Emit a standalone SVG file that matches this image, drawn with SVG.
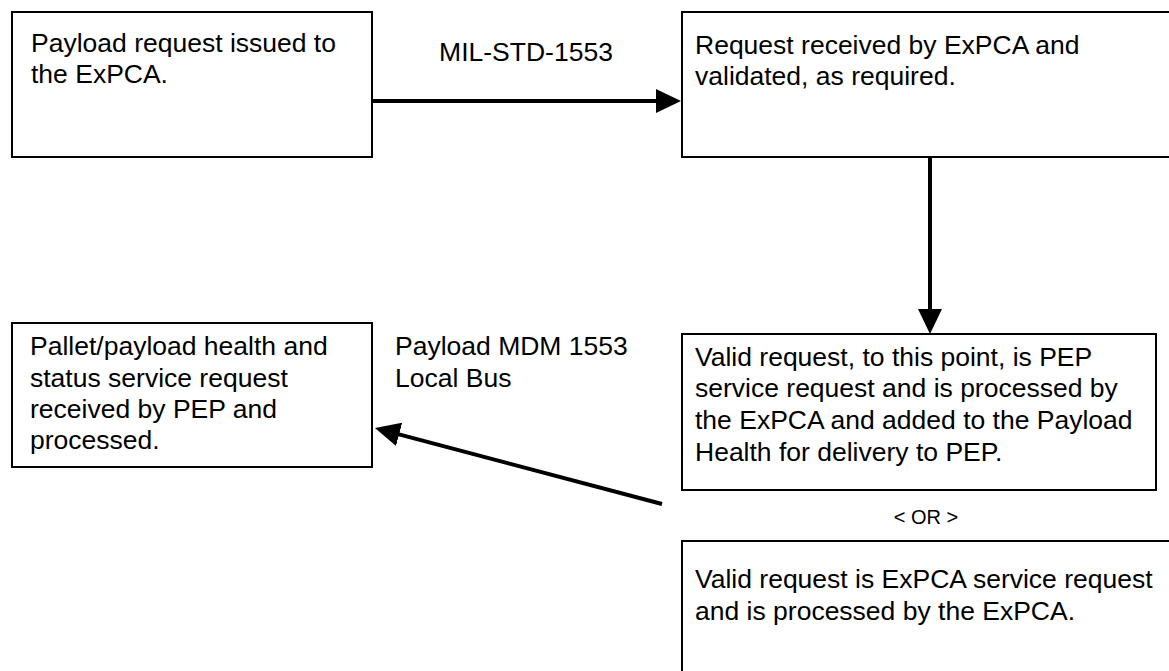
<svg xmlns="http://www.w3.org/2000/svg" width="1169" height="671" viewBox="0 0 1169 671">
<style>
.box{fill:#fff;stroke:#000;stroke-width:2}
.t{font-family:"Liberation Sans",Arial,sans-serif;font-size:26.5px;fill:#000}
.s{font-family:"Liberation Sans",Arial,sans-serif;font-size:20px;fill:#000}
.c{stroke:#000;stroke-width:4;fill:none;marker-end:url(#ah)}
</style>
<defs>
<marker id="ah" viewBox="0 0 25 24" refX="5" refY="12" markerWidth="25" markerHeight="24" markerUnits="userSpaceOnUse" orient="auto">
<path d="M0,0 L25,12 L0,24 z" fill="#000"/>
</marker>
</defs>
<rect width="1169" height="671" fill="#fff"/>
<g id="n1">
<rect class="box" x="12" y="12" width="360" height="145"/>
<text class="t" x="31" y="52">Payload request issued to</text>
<text class="t" x="31" y="83">the ExPCA.</text>
</g>
<g id="n2">
<rect class="box" x="682" y="12" width="500" height="145"/>
<text class="t" x="695" y="54">Request received by ExPCA and</text>
<text class="t" x="695" y="85">validated, as required.</text>
</g>
<g id="n3">
<rect class="box" x="682" y="334" width="474" height="156"/>
<text class="t" x="695" y="366">Valid request, to this point, is PEP</text>
<text class="t" x="695" y="397">service request and is processed by</text>
<text class="t" x="695" y="429">the ExPCA and added to the Payload</text>
<text class="t" x="695" y="461">Health for delivery to PEP.</text>
</g>
<g id="n4">
<rect class="box" x="682" y="541" width="500" height="160"/>
<text class="t" x="695" y="588">Valid request is ExPCA service request</text>
<text class="t" x="695" y="620">and is processed by the ExPCA.</text>
</g>
<g id="n5">
<rect class="box" x="12" y="323" width="360" height="144"/>
<text class="t" x="30" y="355">Pallet/payload health and</text>
<text class="t" x="30" y="387">status service request</text>
<text class="t" x="30" y="418">received by PEP and</text>
<text class="t" x="30" y="449">processed.</text>
</g>
<g id="connectors">
<line class="c" x1="373" y1="101" x2="661" y2="101"/>
<line class="c" x1="930" y1="157" x2="930" y2="314"/>
<line class="c" x1="662" y1="504" x2="394.3" y2="433.1"/>
</g>
<g id="labels">
<text class="t" x="526" y="61" text-anchor="middle">MIL-STD-1553</text>
<text class="t" x="395" y="355">Payload MDM 1553</text>
<text class="t" x="395" y="387">Local Bus</text>
<text class="s" x="926" y="524" text-anchor="middle">&lt; OR &gt;</text>
</g>
</svg>
